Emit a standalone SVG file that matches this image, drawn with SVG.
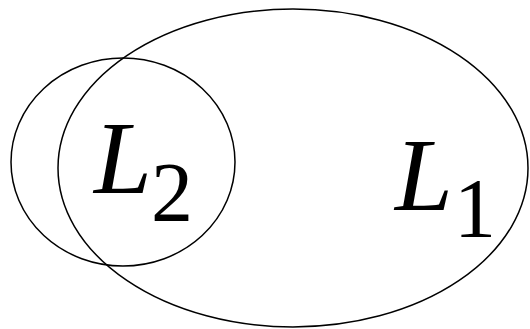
<svg xmlns="http://www.w3.org/2000/svg" width="530" height="329" viewBox="0 0 530 329">
<style>
.s{fill:none;stroke:#000;stroke-width:1.5}
text{font-family:'Liberation Serif','Times New Roman',serif;fill:#000}
.i{font-style:italic;font-size:104px}
.d{font-size:84px;font-style:normal}
</style>
<rect width="530" height="329" fill="#fff"/>
<g id="L1">
<ellipse class="s" cx="293" cy="168" rx="235" ry="159"/>
<text class="i" x="395" y="210">L<tspan class="d" x="454" y="237">1</tspan></text>
</g>
<g id="L2">
<ellipse class="s" cx="123" cy="162" rx="112" ry="104"/>
<text class="i" x="94" y="193">L<tspan class="d" x="151" y="221">2</tspan></text>
</g>
</svg>
